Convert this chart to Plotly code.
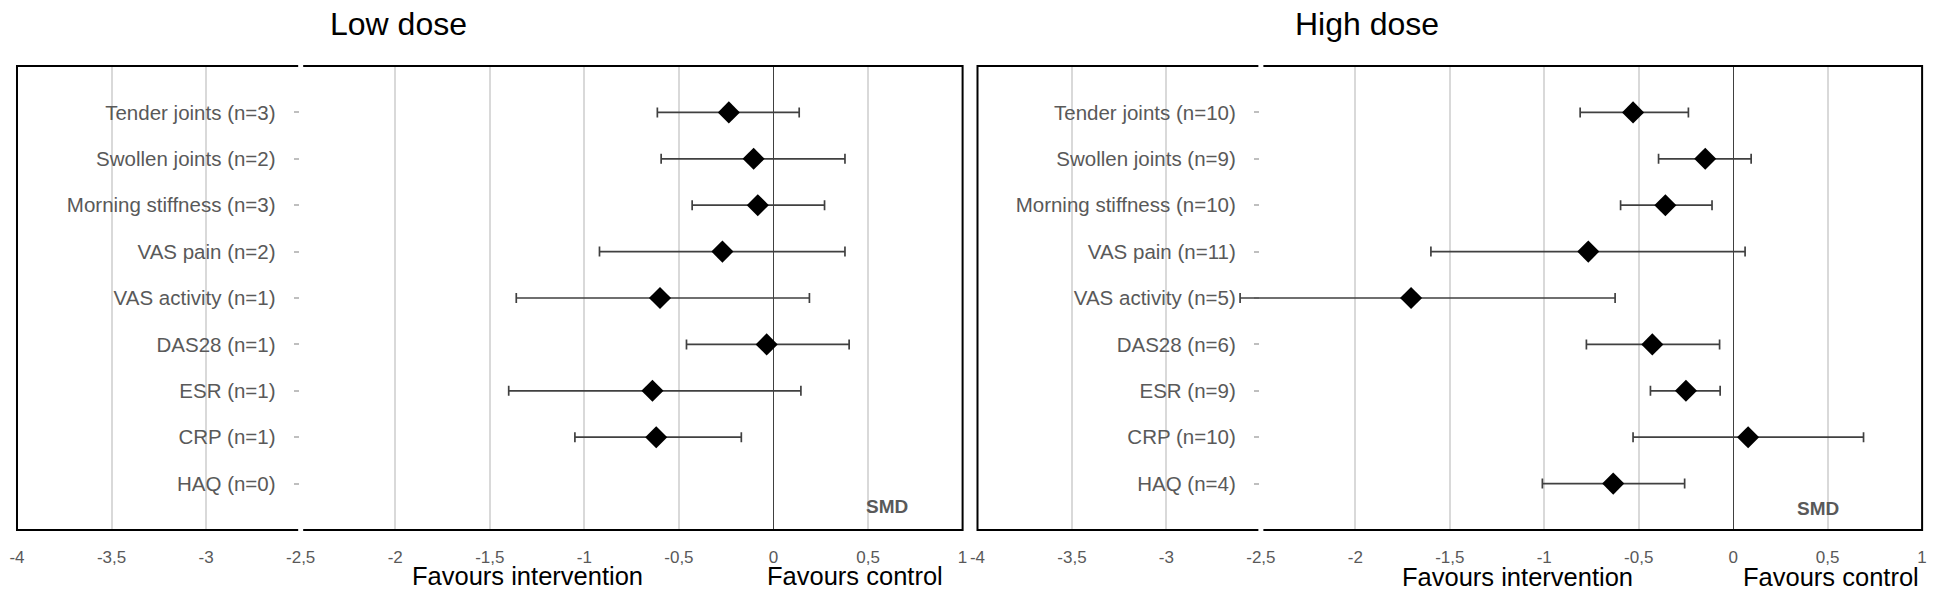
import plotly.graph_objects as go

# ---------------- data ----------------
low_labels = ["Tender joints (n=3)", "Swollen joints (n=2)", "Morning stiffness (n=3)",
              "VAS pain (n=2)", "VAS activity (n=1)", "DAS28 (n=1)", "ESR (n=1)",
              "CRP (n=1)", "HAQ (n=0)"]
low_smd = [-0.236, -0.105, -0.083, -0.27, -0.60, -0.036, -0.64, -0.62, None]
low_ci_lo = [-0.614, -0.594, -0.43, -0.92, -1.36, -0.46, -1.40, -1.05, None]
low_ci_hi = [0.136, 0.378, 0.27, 0.378, 0.19, 0.40, 0.145, -0.17, None]

high_labels = ["Tender joints (n=10)", "Swollen joints (n=9)", "Morning stiffness (n=10)",
               "VAS pain (n=11)", "VAS activity (n=5)", "DAS28 (n=6)", "ESR (n=9)",
               "CRP (n=10)", "HAQ (n=4)"]
high_smd = [-0.53, -0.148, -0.359, -0.767, -1.705, -0.428, -0.25, 0.079, -0.635]
high_ci_lo = [-0.81, -0.395, -0.596, -1.60, -2.61, -0.777, -0.438, -0.53, -1.01]
high_ci_hi = [-0.237, 0.095, -0.112, 0.063, -0.625, -0.072, -0.069, 0.69, -0.257]

row_pos = [9, 8, 7, 6, 5, 4, 3, 2, 1]
x_ticks = [-4, -3.5, -3, -2.5, -2, -1.5, -1, -0.5, 0, 0.5, 1]
x_tick_text = ["-4", "-3,5", "-3", "-2,5", "-2", "-1,5", "-1", "-0,5", "0", "0,5", "1"]
x_range = [-4, 1]
y_cross = -2.5

panel_titles = ["Low dose", "High dose"]
favours = ["Favours intervention", "Favours control"]
smd_label = "SMD"

# ---------------- layout helpers ----------------
WIN_W, WIN_H = 1943, 592
OFF = 8                      # default body margin of the html page
W, H = WIN_W - OFF, WIN_H - OFF
FONT = "Liberation Sans, Arial, sans-serif"
GRAY = "#595959"

px_x = lambda p: (p - OFF) / W
px_y = lambda p: 1 - (p - OFF) / H

x_domains = [[px_x(9), px_x(961)], [px_x(976), px_x(1927)]]
y_domain = [px_y(530), px_y(66)]

fig = go.Figure()

panels = [(low_smd, low_ci_lo, low_ci_hi, low_labels),
          (high_smd, high_ci_lo, high_ci_hi, high_labels)]

for i, (smd, lo, hi, labels) in enumerate(panels):
    xs, ys, ep, em = [], [], [], []
    for v, l, h, y in zip(smd, lo, hi, row_pos):
        if v is None:
            continue
        xs.append(v); ys.append(y); ep.append(h - v); em.append(v - l)
    ax = "" if i == 0 else "2"
    fig.add_trace(go.Scatter(
        x=xs, y=ys, mode="markers", xaxis="x" + ax, yaxis="y" + ax,
        marker=dict(symbol="diamond", size=17, color="black"),
        error_x=dict(type="data", symmetric=False, array=ep, arrayminus=em,
                     color="#404040", thickness=1.7, width=5),
        showlegend=False, hoverinfo="skip"))

    d = x_domains[i]
    ypos = d[0] + (y_cross - x_range[0]) / (x_range[1] - x_range[0]) * (d[1] - d[0])
    xa = dict(domain=d, range=x_range, tickvals=x_ticks, ticktext=x_tick_text,
              showgrid=True, gridcolor="#d9d9d9", gridwidth=1.5,
              zeroline=True, zerolinecolor="#404040", zerolinewidth=1.2,
              showline=False, ticks="outside", ticklen=12, tickcolor="rgba(0,0,0,0)",
              tickfont=dict(family=FONT, size=17, color=GRAY),
              anchor="y" + ax, fixedrange=True)
    ya = dict(domain=y_domain, range=[0, 10], tickvals=row_pos, ticktext=labels,
              anchor="free", position=ypos, showgrid=False, zeroline=False,
              showline=True, linecolor="white", linewidth=5,
              ticks="outside", ticklen=5, tickcolor="#bfbfbf", tickwidth=1.5,
              ticklabelstandoff=14, layer="below traces",
              tickfont=dict(family=FONT, size=20.5, color=GRAY), fixedrange=True)
    fig.update_layout(**{"xaxis" + ax: xa, "yaxis" + ax: ya})

# frames
shapes = []
for i, d in enumerate(x_domains):
    shapes.append(dict(type="rect", xref="paper", yref="paper",
                       x0=d[0], x1=d[1], y0=y_domain[0], y1=y_domain[1],
                       line=dict(color="black", width=2), layer="above"))
    ax = "" if i == 0 else "2"
    for yy in (y_domain[0], y_domain[1]):
        shapes.append(dict(type="line", xref="x" + ax, yref="paper",
                           x0=y_cross, x1=y_cross, y0=yy - 4 / H, y1=yy + 4 / H,
                           line=dict(color="white", width=5), layer="above"))

annotations = []
title_x = [393, 1368]
fav_x = [[523, 853], [1520, 1835]]
fav_y = [576, 577]
smd_pos = [(885, 506), (1822, 508)]
for i in range(2):
    annotations.append(dict(text=panel_titles[i], x=px_x(title_x[i]), y=px_y(24),
                            xref="paper", yref="paper", showarrow=False,
                            font=dict(family=FONT, size=32, color="black"),
                            xanchor="center", yanchor="middle"))
    for t, fx in zip(favours, fav_x[i]):
        annotations.append(dict(text=t, x=px_x(fx), y=px_y(fav_y[i]),
                                xref="paper", yref="paper", showarrow=False,
                                font=dict(family=FONT, size=25.5, color="black"),
                                xanchor="center", yanchor="middle"))
    annotations.append(dict(text="<b>" + smd_label + "</b>", x=px_x(smd_pos[i][0]),
                            y=px_y(smd_pos[i][1]), xref="paper", yref="paper",
                            showarrow=False,
                            font=dict(family=FONT, size=19, color=GRAY),
                            xanchor="center", yanchor="middle"))

fig.update_layout(width=W, height=H, margin=dict(l=0, r=0, t=0, b=0),
                  paper_bgcolor="white", plot_bgcolor="white",
                  shapes=shapes, annotations=annotations)

fig.write_html("out.html")
